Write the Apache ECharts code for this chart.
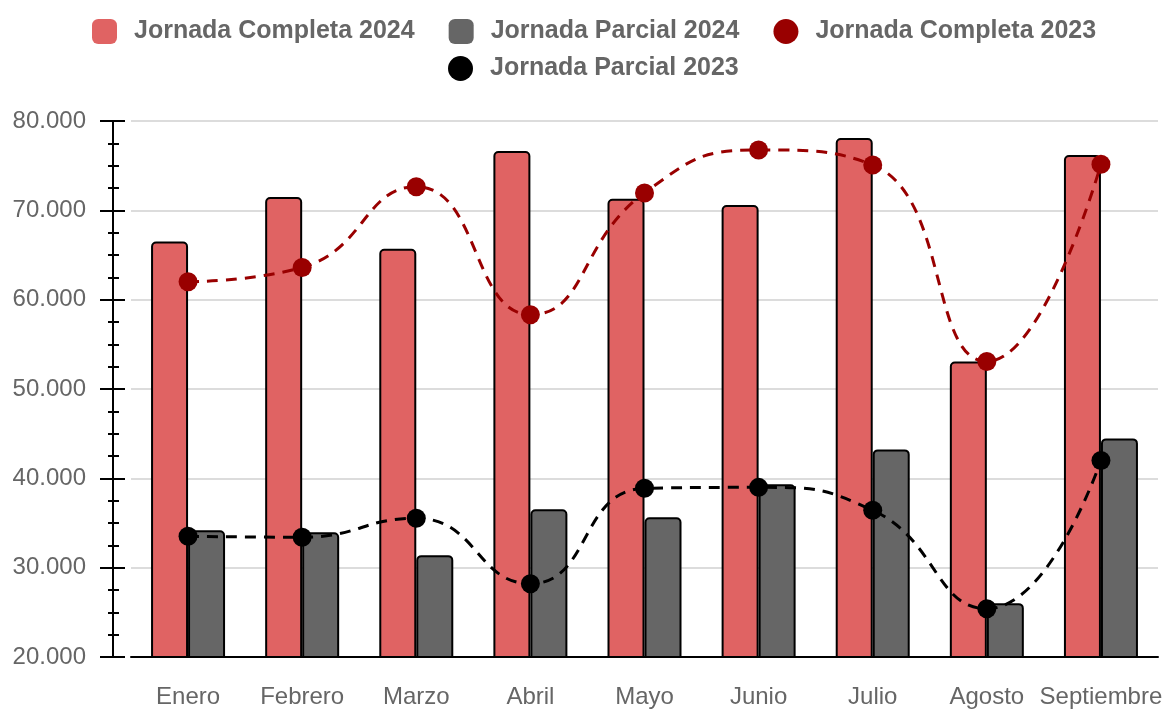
<!DOCTYPE html>
<html>
<head>
<meta charset="utf-8">
<script src="https://cdn.jsdelivr.net/npm/echarts@6/dist/echarts.min.js"></script>
<style>
  html, body { margin: 0; padding: 0; background: #fff; }
  #chart { width: 1167px; height: 709px; }
</style>
</head>
<body>
<div id="chart"></div>
<script>
// meses
var months = ['Enero', 'Febrero', 'Marzo', 'Abril', 'Mayo', 'Junio', 'Julio', 'Agosto', 'Septiembre']

// barras 2024
var completa2024 = [66500, 71500, 65700, 76650, 71300, 70600, 78100, 53070, 76200]
var parcial2024 = [34190, 33970, 31400, 36540, 35640, 39330, 43240, 26030, 44470]

// lineas 2023
var completa2023 = [62000, 63600, 72650, 58320, 71950, 76760, 75080, 53070, 75150]
var parcial2023 = [33520, 33410, 35530, 28200, 38880, 38990, 36420, 25400, 42000]

var yMin = 20000
var yMax = 80000
var yStep = 10000

var font = 'Liberation Sans, Arial, Helvetica, sans-serif'

function miles (v) {
  // 80000 -> 80.000
  return String(v).replace(/\B(?=(\d{3})+(?!\d))/g, '.')
}

var chart = echarts.init(document.getElementById('chart'))

var legendText = {
  color: '#666',
  fontSize: 25,
  fontWeight: 'bold',
  fontFamily: font,
  padding: [0, 0, 0, 12]
}

var option = {
  animation: false,
  legend: [
    {
      top: 19,
      left: 92,
      padding: 0,
      itemWidth: 25,
      itemHeight: 25,
      itemGap: 34,
      itemStyle: { borderWidth: 0 },
      textStyle: legendText,
      data: [
        { name: 'Jornada Completa 2024', icon: 'roundRect' },
        { name: 'Jornada Parcial 2024', icon: 'roundRect' },
        { name: 'Jornada Completa 2023', icon: 'circle' }
      ]
    },
    {
      top: 56,
      left: 448,
      padding: 0,
      itemWidth: 25,
      itemHeight: 25,
      itemStyle: { borderWidth: 0 },
      textStyle: legendText,
      data: [
        { name: 'Jornada Parcial 2023', icon: 'circle' }
      ]
    }
  ],
  grid: {
    left: 131,
    right: 9,
    top: 121,
    bottom: 51
  },
  xAxis: {
    type: 'category',
    data: months,
    axisLine: { lineStyle: { color: '#000', width: 2 } },
    axisTick: { alignWithLabel: true, length: 10, lineStyle: { color: '#000', width: 1.5 } },
    axisLabel: { interval: 0, color: '#666', fontSize: 24, fontFamily: font, margin: 28 }
  },
  yAxis: [
    {
      type: 'value',
      min: yMin,
      max: yMax,
      interval: yStep,
      offset: 18,
      axisLine: { show: true, lineStyle: { color: '#000', width: 2 } },
      axisTick: { show: true, length: 13, lineStyle: { color: '#000', width: 2 } },
      minorTick: { show: true, splitNumber: 4, length: 5, lineStyle: { color: '#000', width: 2 } },
      axisLabel: { color: '#666', fontSize: 24, fontFamily: font, margin: 27, formatter: miles },
      splitLine: { lineStyle: { color: '#d0d0d0', width: 1.5 } }
    },
    {
      // segundo eje solo para las marcas hacia dentro
      type: 'value',
      min: yMin,
      max: yMax,
      interval: yStep,
      position: 'left',
      offset: 18,
      axisLine: { show: true, lineStyle: { color: '#000', width: 2 } },
      axisTick: { show: true, inside: true, length: 12, lineStyle: { color: '#000', width: 2 } },
      minorTick: { show: true, splitNumber: 4, length: 6, lineStyle: { color: '#000', width: 2 } },
      axisLabel: { show: false },
      splitLine: { show: false }
    }
  ],
  series: [
    {
      name: 'Jornada Completa 2024',
      type: 'bar',
      barWidth: 37,
      barGap: '0%',
      itemStyle: { color: '#e06363', borderColor: '#000', borderWidth: 2, borderRadius: [4, 4, 0, 0] },
      data: completa2024
    },
    {
      name: 'Jornada Parcial 2024',
      type: 'bar',
      barWidth: 37,
      barGap: '0%',
      itemStyle: { color: '#666666', borderColor: '#000', borderWidth: 2, borderRadius: [4, 4, 0, 0] },
      data: parcial2024
    },
    {
      name: 'Jornada Completa 2023',
      type: 'line',
      smooth: 0.5,
      symbol: 'circle',
      symbolSize: 19,
      z: 5,
      itemStyle: { color: '#990000' },
      lineStyle: { color: '#990000', width: 3, type: [11, 8] },
      data: completa2023
    },
    {
      name: 'Jornada Parcial 2023',
      type: 'line',
      smooth: 0.5,
      symbol: 'circle',
      symbolSize: 19,
      z: 5,
      itemStyle: { color: '#000' },
      lineStyle: { color: '#000', width: 3, type: [11, 8] },
      data: parcial2023
    }
  ]
}

chart.setOption(option)
</script>
</body>
</html>
